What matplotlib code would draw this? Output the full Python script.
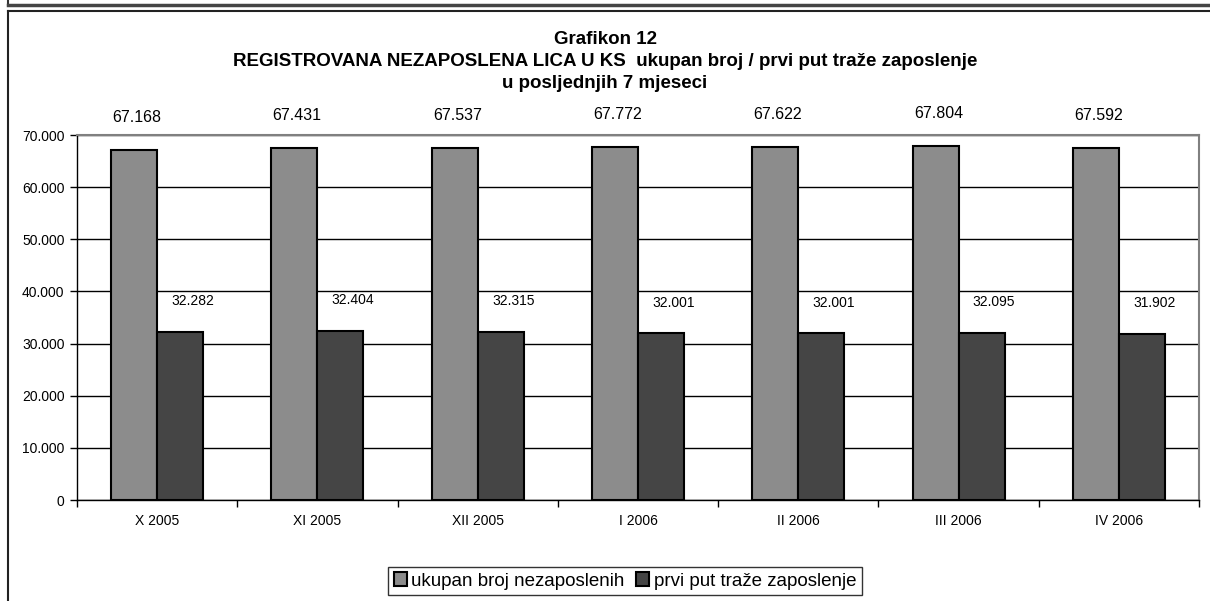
import numpy as np
import matplotlib
matplotlib.use("Agg")
import matplotlib.pyplot as plt
from matplotlib.lines import Line2D
from matplotlib.ticker import FuncFormatter

plt.rcParams['font.family'] = ['Liberation Sans', 'DejaVu Sans']

# podaci
mjeseci = ['X 2005', 'XI 2005', 'XII 2005', 'I 2006', 'II 2006', 'III 2006', 'IV 2006']
ukupno = [67168, 67431, 67537, 67772, 67622, 67804, 67592]
prvi_put = [32282, 32404, 32315, 32001, 32001, 32095, 31902]
labela_ukupno = ['67.168', '67.431', '67.537', '67.772', '67.622', '67.804', '67.592']
labela_prvi = ['32.282', '32.404', '32.315', '32.001', '32.001', '32.095', '31.902']

fig = plt.figure(figsize=(12.1, 6.01), dpi=100)
ax = fig.add_axes([77/1210, 101/601, 1122/1210, 365/601])

x = np.arange(len(mjeseci))
w = 0.287
b1 = ax.bar(x - w/2, ukupno, w, color='#8c8c8c', edgecolor='black', linewidth=1.5,
            label='ukupan broj nezaposlenih', zorder=3)
b2 = ax.bar(x + w/2, prvi_put, w, color='#454545', edgecolor='black', linewidth=1.5,
            label='prvi put traže zaposlenje', zorder=3)

# oznake vrijednosti
for xi, v, t in zip(x, ukupno, labela_ukupno):
    ax.annotate(t, (xi - w/2, v), xytext=(2, 18), textcoords='offset points',
                ha='center', va='bottom', fontsize=11.5, annotation_clip=False)
for xi, v, t in zip(x, prvi_put, labela_prvi):
    ax.annotate(t, (xi + w/2, v), xytext=(9, 17), textcoords='offset points',
                ha='center', va='bottom', fontsize=10, annotation_clip=False)

ax.set_xlim(-0.5, len(mjeseci) - 0.5)
ax.set_ylim(0, 70000)
ax.set_yticks(np.arange(0, 70001, 10000))
ax.yaxis.set_major_formatter(FuncFormatter(lambda v, p: f'{int(v):,}'.replace(',', '.')))
ax.set_xticks(np.arange(-0.5, len(mjeseci)))
ax.set_xticklabels([])
ax.set_xticks(x, minor=True)
ax.set_xticklabels(mjeseci, minor=True)
ax.tick_params(axis='x', which='minor', length=0, pad=10, labelsize=10)
ax.tick_params(axis='x', which='major', length=5, width=1, color='black')
ax.tick_params(axis='y', length=5, width=1, labelsize=10, pad=4)

ax.grid(axis='y', color='black', linewidth=1, zorder=1)
ax.set_axisbelow(True)
for s in ['top', 'right']:
    ax.spines[s].set_color('#808080')
    ax.spines[s].set_linewidth(1.5)
for s in ['left', 'bottom']:
    ax.spines[s].set_color('black')
    ax.spines[s].set_linewidth(1)

# naslov
fig.text(0.5, 1 - 40/601, 'Grafikon 12', ha='center', va='center', fontsize=13.5, fontweight='bold')
fig.text(0.5, 1 - 62/601, 'REGISTROVANA NEZAPOSLENA LICA U KS  ukupan broj / prvi put traže zaposlenje',
         ha='center', va='center', fontsize=13.5, fontweight='bold')
fig.text(0.5, 1 - 84/601, 'u posljednjih 7 mjeseci', ha='center', va='center', fontsize=13.5, fontweight='bold')

# legenda
leg = fig.legend(handles=[b1, b2], loc='center', bbox_to_anchor=(625/1210, 1 - 581/601), ncol=2,
                 frameon=True, fancybox=False, edgecolor='black', fontsize=13.5,
                 handlelength=0.7, handleheight=0.7, handletextpad=0.25, columnspacing=0.6,
                 borderpad=0.3)
leg.get_frame().set_linewidth(1)

# okviri
fig.add_artist(Line2D([8/1210, 8/1210], [1, 1 - 5/601], color='#333333', linewidth=1.5))
fig.add_artist(Line2D([8/1210, 1], [1 - 5/601, 1 - 5/601], color='#444444', linewidth=2.5))
fig.add_artist(Line2D([8/1210, 1], [1 - 11/601, 1 - 11/601], color='#222222', linewidth=1.5))
fig.add_artist(Line2D([8/1210, 8/1210], [1 - 11/601, 0], color='#222222', linewidth=1.5))

fig.savefig('out.png', dpi=100)
